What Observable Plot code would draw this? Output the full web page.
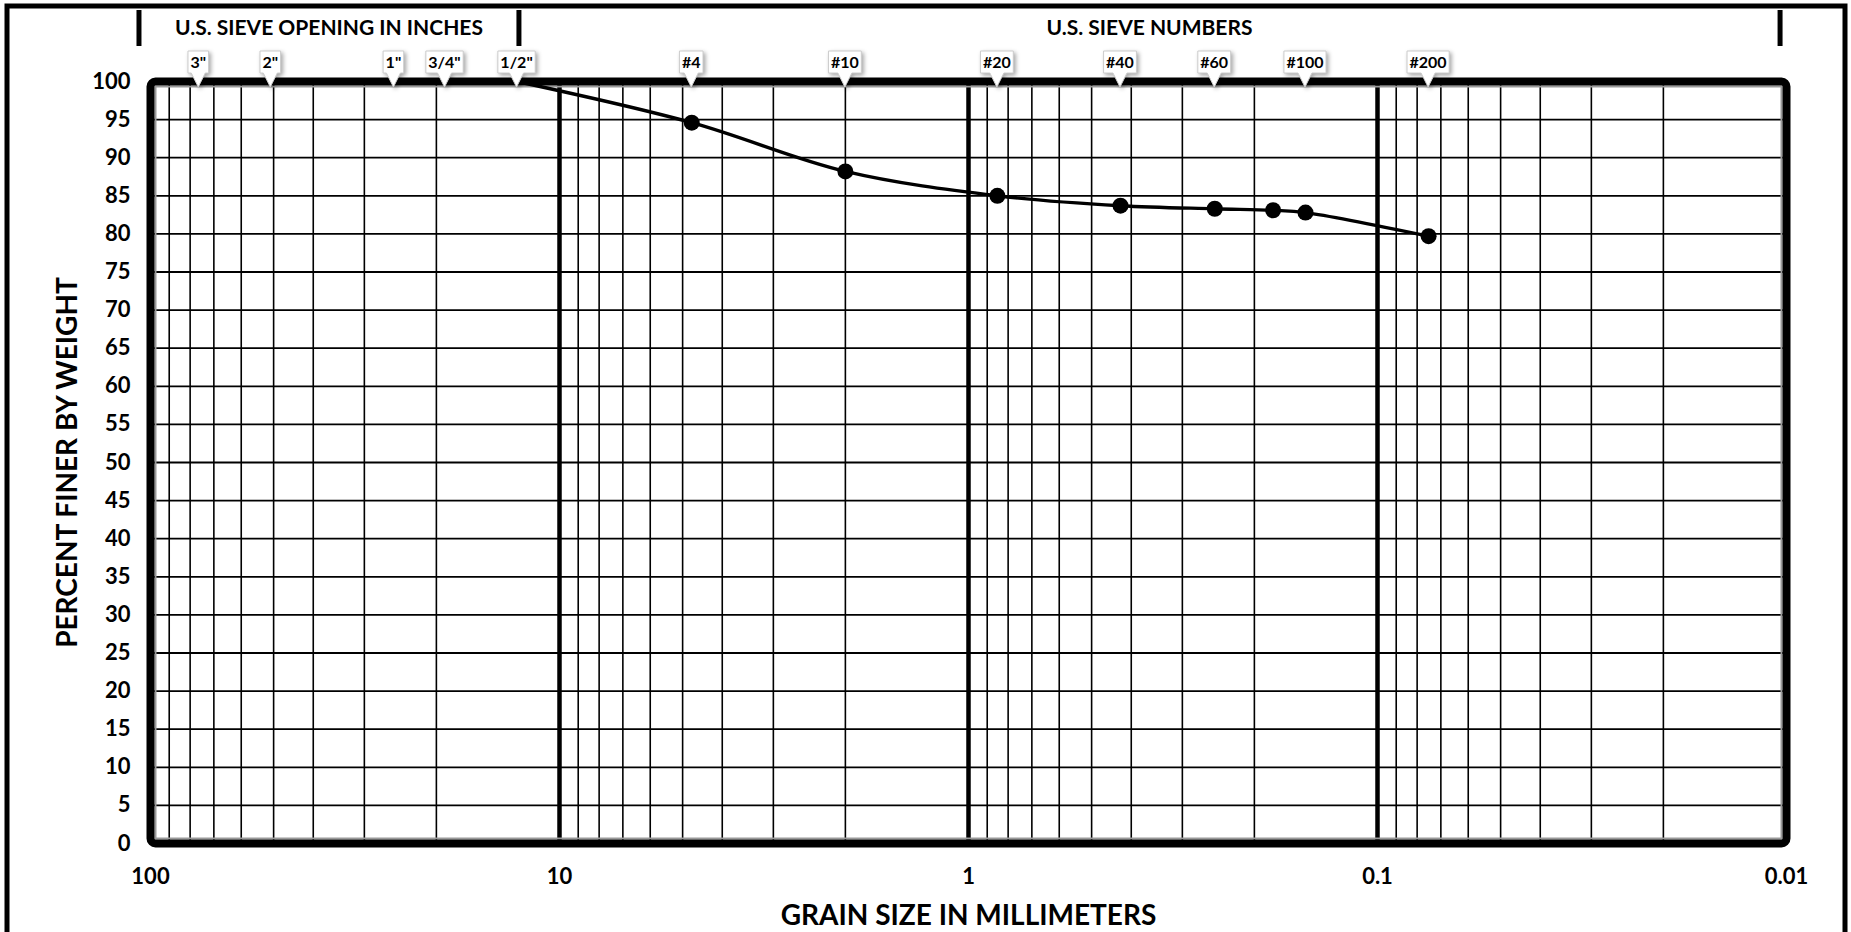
<!DOCTYPE html>
<html><head><meta charset="utf-8">
<script src="https://cdn.jsdelivr.net/npm/d3@7"></script>
<script src="https://cdn.jsdelivr.net/npm/@observablehq/plot@0.6"></script>
<style>
html,body{margin:0;padding:0;background:#fff;}
#chart{width:1851px;height:932px;overflow:hidden;}
</style></head>
<body><div id="chart"></div>
<script>
// ---- data ----
const sieveLabels = ['3"', '2"', '1"', '3/4"', '1/2"', '#4', '#10', '#20', '#40', '#60', '#100', '#200'];
const sieveSizesMm = [76.2, 50.8, 25.4, 19.05, 12.7, 4.75, 2.0, 0.85, 0.425, 0.25, 0.15, 0.075];
const grainSizeMm = [12.7, 4.75, 2.0, 0.85, 0.425, 0.25, 0.18, 0.15, 0.075];
const percentFiner = [100, 94.6, 88.2, 85.0, 83.7, 83.3, 83.1, 82.8, 79.7];
const markerShown = [false, true, true, true, true, true, true, true, true];
const xTickValues = [100, 10, 1, 0.1, 0.01];
const yTickValues = [0, 5, 10, 15, 20, 25, 30, 35, 40, 45, 50, 55, 60, 65, 70, 75, 80, 85, 90, 95, 100];
const minorGridMm = [90, 80, 70, 60, 50, 40, 30, 20,
  9, 8, 7, 6, 5, 4, 3, 2,
  0.9, 0.8, 0.7, 0.6, 0.5, 0.4, 0.3, 0.2,
  0.09, 0.08, 0.07, 0.06, 0.05, 0.04, 0.03, 0.02];
const decadeGridMm = [10, 1, 0.1];
const headerLabels = ["U.S. SIEVE OPENING IN INCHES", "U.S. SIEVE NUMBERS"];
const headerFromMm = [106.4, 12.53];
const headerToMm = [12.53, 0.01034];
const xTitle = "GRAIN SIZE IN MILLIMETERS";
const yTitle = "PERCENT FINER BY WEIGHT";

// ---- tables ----
const points = grainSizeMm.map((d, i) => ({d, p: percentFiner[i], m: markerShown[i]}));
const sieves = sieveSizesMm.map((d, i) => ({d, label: sieveLabels[i]}));
const headers = headerLabels.map((label, i) => ({label, from: headerFromMm[i], to: headerToMm[i]}));

const FONT = "Lato, 'Open Sans', sans-serif";
const measureCtx = document.createElement("canvas").getContext("2d");

function decorations(index, scales, values, dims) {
  const x = scales.x;
  const g = d3.create("svg:g");
  // outer border (open at bottom)
  g.append("path")
    .attr("d", `M7,${dims.height + 20} V6 H${dims.width - 6} V${dims.height + 20}`)
    .attr("fill", "none").attr("stroke", "black").attr("stroke-width", 5);
  // header bars
  const bounds = [headers[0].from, headers[0].to, headers[1].to];
  for (const b of bounds) {
    g.append("line")
      .attr("x1", x(b)).attr("x2", x(b))
      .attr("y1", 10).attr("y2", 46)
      .attr("stroke", "black").attr("stroke-width", 5);
  }
  for (const h of headers) {
    const cx = (x(h.from) + x(h.to)) / 2;
    g.append("text")
      .attr("x", cx).attr("y", 27).attr("dy", "0.36em")
      .attr("text-anchor", "middle")
      .attr("font-size", 21).attr("font-weight", "bold")
      .attr("font-family", FONT)
      .attr("fill", "black")
      .text(h.label);
  }
  return g.node();
}

function sieveCallouts(index, scales, values, dims) {
  const x = scales.x, y = scales.y;
  const g = d3.create("svg:g").attr("aria-label", "sieve callouts");
  const fs = 16;
  measureCtx.font = `bold ${fs}px Lato`;
  const top = y(100);
  for (const s of sieves) {
    const cx = x(s.d);
    const w = measureCtx.measureText(s.label).width + 5;
    const tip = top + 6, bottom = top - 8, boxTop = top - 30;
    const l = cx - w / 2, r = cx + w / 2;
    g.append("path")
      .attr("d", `M${l},${boxTop}H${r}V${bottom}H${cx + 7}L${cx},${tip}L${cx - 7},${bottom}H${l}Z`)
      .attr("fill", "white").attr("stroke", "#cccccc").attr("stroke-width", 1)
      .attr("style", "filter: drop-shadow(2px 2px 2px rgba(0,0,0,0.35))");
    g.append("text")
      .attr("x", cx).attr("y", bottom - 5)
      .attr("text-anchor", "middle")
      .attr("font-size", fs).attr("font-weight", "bold")
      .attr("font-family", FONT).attr("fill", "black")
      .text(s.label);
  }
  return g.node();
}

const chart = Plot.plot({
  width: 1851,
  height: 932,
  marginLeft: 150,
  marginRight: 65,
  marginTop: 81,
  marginBottom: 89,
  style: {fontFamily: FONT, fontWeight: "bold", color: "black", background: "white"},
  x: {type: "log", domain: [100, 0.01]},
  y: {domain: [0, 100]},
  marks: [
    Plot.ruleY(yTickValues, {stroke: "black", strokeWidth: 1.8}),
    Plot.ruleX(minorGridMm, {stroke: "black", strokeWidth: 1.6}),
    Plot.ruleX(decadeGridMm, {stroke: "black", strokeWidth: 4.5}),
    Plot.frame({stroke: "#999", strokeWidth: 2, inset: 5}),
    Plot.frame({stroke: "black", strokeWidth: 8, rx: 5}),
    Plot.line(points, {x: "d", y: "p", curve: "catmull-rom", stroke: "black", strokeWidth: 3.4}),
    Plot.dot(points.filter(d => d.m), {x: "d", y: "p", r: 8, fill: "black", stroke: "none"}),
    sieveCallouts,
    Plot.axisX({ticks: xTickValues, tickFormat: d => String(d), tickSize: 0, tickPadding: 25, fontSize: 22, label: null}),
    Plot.axisY({ticks: yTickValues, tickSize: 0, tickPadding: 20, fontSize: 22, label: null}),
    Plot.text([yTitle], {frameAnchor: "left", textAnchor: "middle", dx: -82, rotate: -90, fontSize: 28, fontWeight: "bold", text: d => d}),
    Plot.text([xTitle], {frameAnchor: "bottom", dy: 81, fontSize: 28, fontWeight: "bold", text: d => d}),
    decorations
  ]
});
document.getElementById("chart").appendChild(chart);
</script>
</body></html>
